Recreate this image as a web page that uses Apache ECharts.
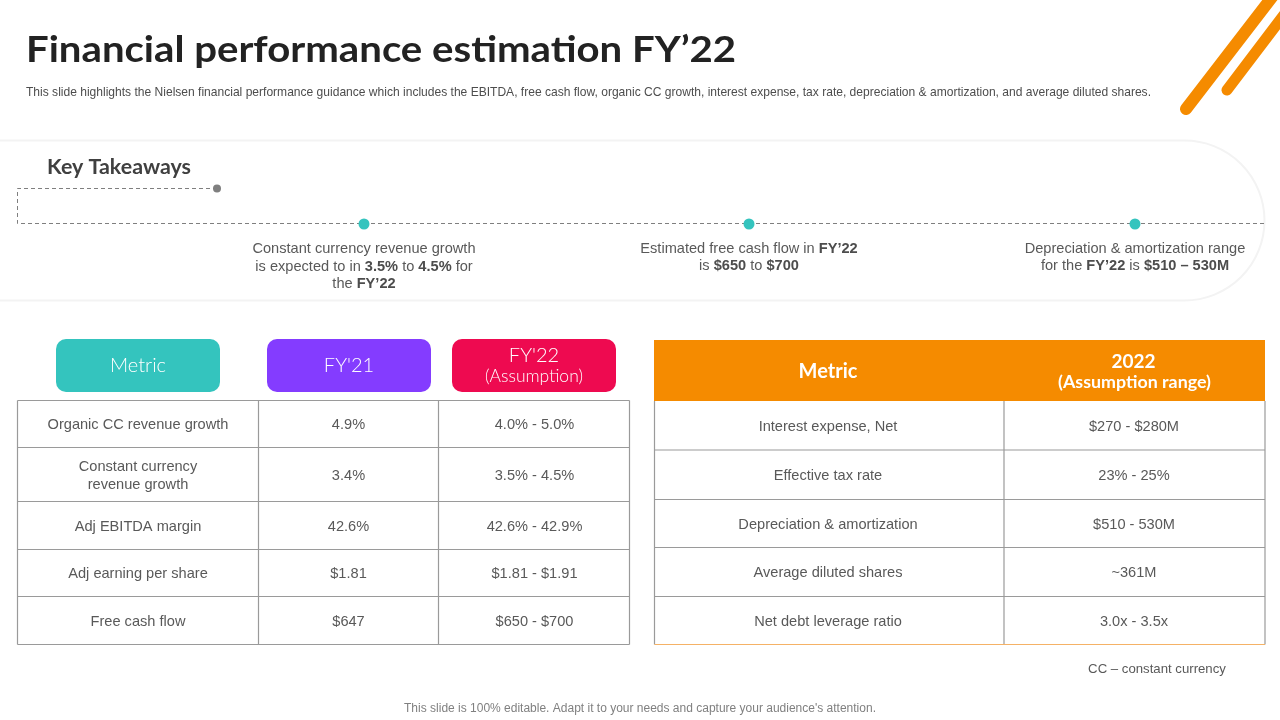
<!DOCTYPE html>
<html>
<head>
<meta charset="utf-8">
<style>
  html, body { margin: 0; padding: 0; background: #fff; }
  #main { width: 1280px; height: 720px; }
</style>
<script src="https://cdn.jsdelivr.net/npm/echarts@6/dist/echarts.min.js"></script>
</head>
<body>
<div id="main"></div>
<script>
const titleText = "Financial performance estimation FY’22";
const subtitleText = "This slide highlights the Nielsen financial performance guidance which includes the EBITDA, free cash flow, organic CC growth, interest expense, tax rate, depreciation & amortization, and average diluted shares.";
const takeawaysTitle = "Key Takeaways";
const takeaways = [
  "Constant currency revenue growth\nis expected to in {b|3.5%} to {b|4.5%} for\nthe {b|FY’22}",
  "Estimated free cash flow in {b|FY’22}\nis {b|$650} to {b|$700}",
  "Depreciation & amortization range\nfor the {b|FY’22} is {b|$510 – 530M}"
];

const leftHeaders = ["Metric", "FY'21", "FY'22\n(Assumption)"];
const leftMetrics = ["Organic CC revenue growth", "Constant currency\nrevenue growth", "Adj EBITDA margin", "Adj earning per share", "Free cash flow"];
const fy21Values = ["4.9%", "3.4%", "42.6%", "$1.81", "$647"];
const fy22Values = ["4.0% - 5.0%", "3.5% - 4.5%", "42.6% - 42.9%", "$1.81 - $1.91", "$650 - $700"];

const rightHeaders = ["Metric", "2022"];
const rightSubHeader = "(Assumption range)";
const rightMetrics = ["Interest expense, Net", "Effective tax rate", "Depreciation & amortization", "Average diluted shares", "Net debt leverage ratio"];
const rangeValues = ["$270 - $280M", "23% - 25%", "$510 - 530M", "~361M", "3.0x - 3.5x"];

const footnote = "CC – constant currency";
const footerText = "This slide is 100% editable. Adapt it to your needs and capture your audience's attention.";

const chart = echarts.init(document.getElementById("main"));

const bodyFont = '"Liberation Sans", Arial, sans-serif';
const headFont = 'Lato, sans-serif';
const gridColor = "#9a9a9a";
const bodyColor = "#595959";
const bodySize = 14.6;

const g = [];

// stretchX widens the glyphs, the headings in the slide are in a wider face than Lato
function text(x, y, str, size, color, opts, stretchX) {
  g.push({
    type: "text",
    z: 10,
    x: x,
    y: y,
    scaleX: stretchX || 1,
    style: Object.assign({
      text: str, fontSize: size, fill: color,
      fontFamily: bodyFont, align: "center", verticalAlign: "middle", lineHeight: Math.round(size * 1.28)
    }, opts || {})
  });
}

function line(x1, y1, x2, y2, color, width) {
  g.push({
    type: "line",
    z: 3,
    shape: { x1: x1, y1: y1, x2: x2, y2: y2 },
    style: { stroke: color, lineWidth: width || 1.2 }
  });
}

// corner stripes
[[1186, 109, 1276, -8, 12], [1227, 90, 1290, 7, 11]].forEach((s) => {
  g.push({
    type: "line",
    shape: { x1: s[0], y1: s[1], x2: s[2], y2: s[3] },
    style: { stroke: "#F58B00", lineWidth: s[4], lineCap: "round" }
  });
});

text(26, 50, titleText, 36, "#222222", { align: "left", fontFamily: headFont, fontWeight: 700 }, 1.115);
text(26, 92.5, subtitleText, 12.05, "#4d4d4d", { align: "left" });

// takeaways panel
g.push({
  type: "rect",
  shape: { x: -20, y: 140.5, width: 1284.5, height: 160, r: [0, 80, 80, 0] },
  style: { fill: "#fff", stroke: "#f3f3f3", lineWidth: 2 }
});
text(47, 168, takeawaysTitle, 20, "#404040", { align: "left", fontFamily: headFont, fontWeight: 700 }, 1.07);
g.push({
  type: "polyline",
  z: 4,
  shape: { points: [[217, 188.5], [17.5, 188.5], [17.5, 223.5], [1265, 223.5]] },
  style: { fill: null, stroke: "#7f7f7f", lineWidth: 1, lineDash: [4, 3] }
});
g.push({ type: "circle", z: 5, shape: { cx: 217, cy: 188.5, r: 4 }, style: { fill: "#7f7f7f" } });

const takeawayX = [364, 749, 1135];
const takeawayY = [266.5, 257.5, 257.5];
takeaways.forEach((t, i) => {
  g.push({ type: "circle", z: 5, shape: { cx: takeawayX[i], cy: 224, r: 5.5 }, style: { fill: "#34C4BE" } });
  text(takeawayX[i], takeawayY[i], t, bodySize, bodyColor, {
    lineHeight: 17.5,
    rich: { b: { fontSize: bodySize, fontWeight: 700, fill: "#4d4d4d", fontFamily: bodyFont, lineHeight: 17.5 } }
  });
});

// left table
const pillX = [56, 267, 452];
const pillColors = ["#34C4BE", "#843CFF", "#EE0A50"];
leftHeaders.forEach((h, i) => {
  g.push({
    type: "rect",
    shape: { x: pillX[i], y: 339, width: 164, height: 53, r: 10 },
    style: { fill: pillColors[i] }
  });
  if (i < 2) {
    text(pillX[i] + 82, 365.5, h, 20, "#ffffff", { fontFamily: headFont, fontWeight: 300 });
  } else {
    const parts = h.split("\n");
    text(pillX[i] + 82, 355.5, parts[0], 20, "#ffffff", { fontFamily: headFont, fontWeight: 300 });
    text(pillX[i] + 82, 376, parts[1], 17.5, "#ffffff", { fontFamily: headFont, fontWeight: 300 });
  }
});

const leftColX = [17.5, 258.5, 438.5, 629.5];
const leftRowY = [400.5, 447.5, 501.5, 549.5, 596.5, 644.5];
leftRowY.forEach((y) => line(leftColX[0], y, leftColX[3], y, gridColor));
leftColX.forEach((x) => line(x, leftRowY[0], x, leftRowY[5], gridColor));
[leftMetrics, fy21Values, fy22Values].forEach((col, c) => {
  const cx = c === 0 ? 138 : (c === 1 ? 348.5 : 534.5);
  col.forEach((v, r) => {
    text(cx, (leftRowY[r] + leftRowY[r + 1]) / 2 + 1, v, bodySize, bodyColor, { lineHeight: 18 });
  });
});

// right table
g.push({ type: "rect", shape: { x: 654, y: 340, width: 611, height: 61 }, style: { fill: "#F58B00" } });
text(828, 371.5, rightHeaders[0], 20, "#ffffff", { fontFamily: headFont, fontWeight: 700 });
text(1133.5, 361.5, rightHeaders[1], 19, "#ffffff", { fontFamily: headFont, fontWeight: 700 });
text(1134.5, 382.5, rightSubHeader, 16.5, "#ffffff", { fontFamily: headFont, fontWeight: 700 }, 1.08);

const rightColX = [654.5, 1004, 1265];
const rightRowY = [401, 450, 499.5, 547.5, 596.5, 644.5];
rightRowY.slice(1, 5).forEach((y) => line(rightColX[0], y, rightColX[2], y, gridColor));
rightColX.forEach((x) => line(x, rightRowY[0], x, rightRowY[5], gridColor));
line(rightColX[0], rightRowY[5], rightColX[2], rightRowY[5], "#F5B266");
[rightMetrics, rangeValues].forEach((col, c) => {
  col.forEach((v, r) => {
    text(c === 0 ? 828 : 1134, (rightRowY[r] + rightRowY[r + 1]) / 2 + 1, v, bodySize, bodyColor);
  });
});

text(1157, 669, footnote, 13.2, bodyColor);
text(640, 708.5, footerText, 12, "#808080");

chart.setOption({
  backgroundColor: "#ffffff",
  animation: false,
  graphic: { elements: g }
});
</script>
</body>
</html>
